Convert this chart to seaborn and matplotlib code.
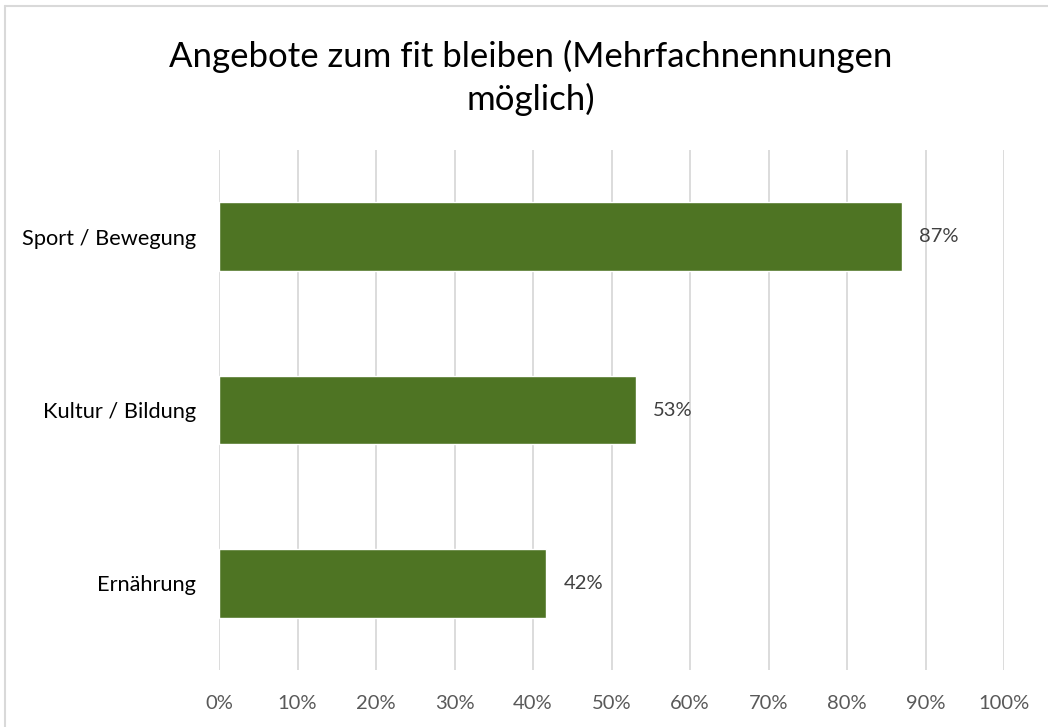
import pandas as pd
import seaborn as sns
import matplotlib.pyplot as plt
from matplotlib.lines import Line2D
from matplotlib.ticker import PercentFormatter

# data
categories = ["Sport / Bewegung", "Kultur / Bildung", "Ernährung"]
shares = [0.87, 0.531, 0.417]
xticks = [i / 10 for i in range(11)]

df = pd.DataFrame({"Angebot": categories, "Anteil": shares})

sns.set_style("white")
plt.rcParams["font.family"] = ["Lato", "DejaVu Sans"]

fig = plt.figure(figsize=(10.48, 7.27), dpi=100)
ax = fig.add_axes([219 / 1048, 1 - 670 / 727, 785 / 1048, 520 / 727])

sns.barplot(data=df, x="Anteil", y="Angebot", color="#4E7423", width=0.395,
            saturation=1, ax=ax, zorder=3)

ax.set_xlim(0, 1)
ax.set_ylim(2.5, -0.5)
ax.set_xticks(xticks)
ax.xaxis.set_major_formatter(PercentFormatter(1.0, decimals=0))
ax.grid(axis="x", color="#D9D9D9", linewidth=1.3, zorder=0)
ax.grid(axis="y", visible=False)
for s in ax.spines.values():
    s.set_visible(False)
ax.set_xlabel("")
ax.set_ylabel("")
ax.tick_params(axis="x", labelsize=14.5, colors="#595959", pad=18, length=0)
ax.tick_params(axis="y", labelsize=15.7, colors="#000000", pad=16.5, length=0)

for i, v in enumerate(shares):
    ax.text(v + 0.022, i, f"{round(v * 100):.0f}%", va="center", ha="left",
            fontsize=14.5, color="#404040")

fig.text(531 / 1048, 1 - 78 / 727, "Angebote zum fit bleiben (Mehrfachnennungen\nmöglich)",
         ha="center", va="center", fontsize=25, color="#000000", linespacing=1.35)

# outer chart border (top and left edges visible)
fig.add_artist(Line2D([5 / 1048, 1.0], [1 - 6 / 727, 1 - 6 / 727],
                      transform=fig.transFigure, color="#D9D9D9", linewidth=1.5))
fig.add_artist(Line2D([5 / 1048, 5 / 1048], [0, 1 - 6 / 727],
                      transform=fig.transFigure, color="#D9D9D9", linewidth=1.5))

plt.savefig("out.png", dpi=100)
